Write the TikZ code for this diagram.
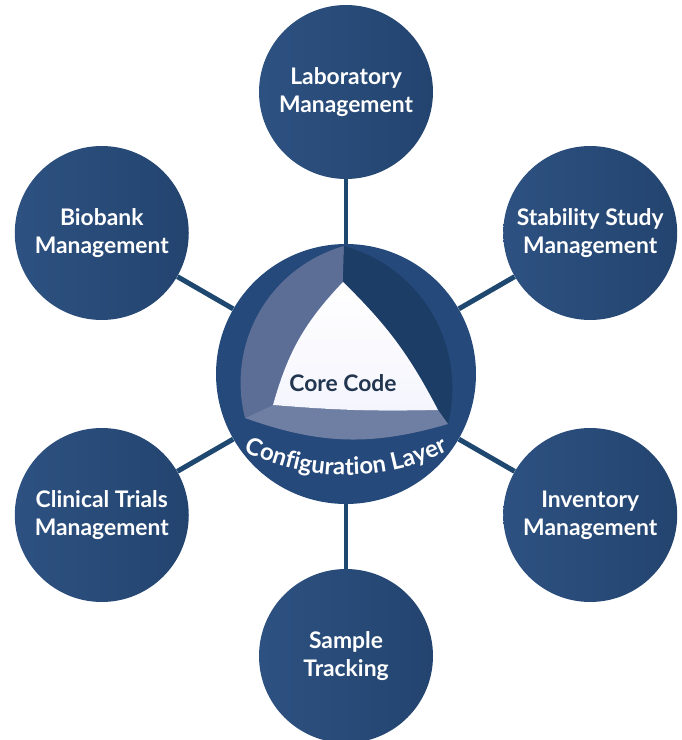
\documentclass[tikz,border=0pt]{standalone}
\usepackage{fontspec}
\setmainfont{Lato}
\usetikzlibrary{positioning,calc,decorations.text}
\definecolor{navy}{HTML}{25497A}
\definecolor{navydark}{HTML}{1B3D66}
\definecolor{modl}{HTML}{2D5181}
\definecolor{modr}{HTML}{23446F}
\definecolor{facel}{HTML}{5C6E95}
\definecolor{band}{HTML}{6F7EA3}
\definecolor{coretext}{HTML}{22374F}
\definecolor{linkc}{HTML}{1E4870}
\tikzset{>=latex,
  module/.style={circle, minimum size=3.48cm, inner sep=0pt, align=center,
    text=white, font=\fontsize{13}{16}\selectfont\bfseries,
    left color=modl, right color=modr},
  hub/.style={circle, minimum size=5.2cm, inner sep=0pt, fill=navy}}

\begin{document}
\begin{tikzpicture}[x=0.02cm,y=0.02cm]
\useasboundingbox (-346,-366) rectangle (335,374);
\node[hub] (core) at (0,0) {};
\node[module] (lab) at (90:282) {Laboratory\\Management};
\node[module] (stab) at (30:282) {Stability Study\\Management};
\node[module] (inv) at (-30:282) {Inventory\\Management};
\node[module] (sample) at (-90:282) {Sample\\Tracking};
\node[module] (clin) at (210:282) {Clinical Trials\\Management};
\node[module] (bio) at (150:282) {Biobank\\Management};
\begin{scope}[line width = 0.1cm, color=linkc]
\foreach \m in {lab,stab,inv,sample,clin,bio}
  \draw (core) -- (\m);
\end{scope}
% faces of the core
\fill[facel] (-2,128) to[bend right=44] (-101,-44) -- (-73,-31)
  to[bend left=14] (-3,92) -- cycle;
\fill[navydark] (-3,92) to[bend left=9] (92,-36) -- (102,-50)
  to[bend right=44] (-2,128) -- cycle;
\fill[band] (-101,-44) to[bend right=18] (102,-50) -- (92,-36)
  to[bend left=3] (-73,-31) -- cycle;
\shade[top color=white, bottom color=black!14!blue!4!white]
  (-3,92) to[bend left=9] (92,-36) to[bend left=3] (-73,-31)
  to[bend left=14] (-3,92);
\node[text=coretext, font=\fontsize{13}{16}\selectfont\bfseries] (code) at (-3,-9) {Core Code};
\path[decorate, decoration={text along path, text align=center, text color=white,
    text={|\fontsize{13.6}{14}\selectfont\bfseries|Configuration Layer}}]
  ([shift={(0,127)}]-150:228) arc[start angle=-150, end angle=-30, radius=228];
%\draw[help lines] (-346,-366) grid[step=50] (335,374);
\end{tikzpicture}
\end{document}
